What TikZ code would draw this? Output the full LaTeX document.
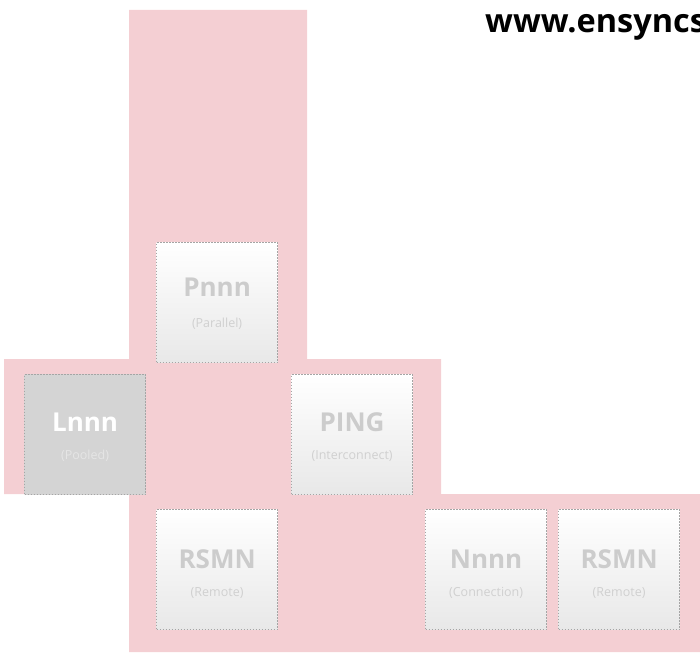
\documentclass[tikz,border=0pt]{standalone}
\usepackage{fontspec}
\setmainfont{Open Sans}
\usepackage{xcolor}
\usepackage{tikz}
\usetikzlibrary{positioning}
\definecolor{blush}{RGB}{244,207,211}
\definecolor{tilerim}{RGB}{165,165,165}
\definecolor{tilelow}{RGB}{232,232,232}
\definecolor{tilehead}{RGB}{204,204,204}
\definecolor{tilesub}{RGB}{208,208,208}
\definecolor{poolgrey}{RGB}{212,212,212}

\begin{document}
\begin{tikzpicture}[y=-1pt,x=1pt,
	tile/.style={draw=tilerim, line width=1.2pt, dash pattern=on 1.5pt off 1.5pt,
		top color=white, bottom color=tilelow, minimum width=121pt, minimum height=120pt,
		inner sep=0pt, anchor=north west},
	pooltile/.style={tile, top color=poolgrey, bottom color=poolgrey},
	head/.style={font=\bfseries\fontsize{26}{26}\selectfont, text=tilehead, inner sep=0pt},
	sub/.style={font=\fontsize{12.5}{12.5}\selectfont, text=tilesub, inner sep=0pt}]
	\useasboundingbox (0,0) rectangle (700,652);
	\clip (0,0) rectangle (700,652);

	% pink frame
	\fill[blush] (4,359) -- (129,359) -- (129,10) -- (307,10) -- (307,359) -- (441,359)
		-- (441,494) -- (700,494) -- (700,652) -- (129,652) -- (129,494) -- (4,494) -- cycle;

	\node[anchor=base west, font=\bfseries\fontsize{32.5}{32.5}\selectfont, inner sep=0pt] (site) at (485,33) {www.ensyncs};

	\node[tile] (pnnn) at (156,242) {};
	\node[pooltile] (lnnn) at (24,374) {};
	\node[tile] (ping) at (291,374) {};
	\node[tile] (rsmna) at (156,509) {};
	\node[tile] (nnnn) at (425,509) {};
	\node[tile] (rsmnb) at (558,509) {};

	\node[head] (pnnn-h) at ([yshift=15pt]pnnn.center) {Pnnn};
	\node[sub] (pnnn-s) at ([yshift=-21pt]pnnn.center) {(Parallel)};
	\node[head, text=white] (lnnn-h) at ([yshift=12pt]lnnn.center) {Lnnn};
	\node[sub, text=white!90!black] (lnnn-s) at ([yshift=-21pt]lnnn.center) {(Pooled)};
	\node[head] (ping-h) at ([yshift=12pt]ping.center) {PING};
	\node[sub] (ping-s) at ([yshift=-21pt]ping.center) {(Interconnect)};
	\node[head] (rsmna-h) at ([yshift=10pt]rsmna.center) {RSMN};
	\node[sub] (rsmna-s) at ([yshift=-23pt]rsmna.center) {(Remote)};
	\node[head] (nnnn-h) at ([yshift=10pt]nnnn.center) {Nnnn};
	\node[sub] (nnnn-s) at ([yshift=-23pt]nnnn.center) {(Connection)};
	\node[head] (rsmnb-h) at ([yshift=10pt]rsmnb.center) {RSMN};
	\node[sub] (rsmnb-s) at ([yshift=-23pt]rsmnb.center) {(Remote)};
\end{tikzpicture}
\end{document}
